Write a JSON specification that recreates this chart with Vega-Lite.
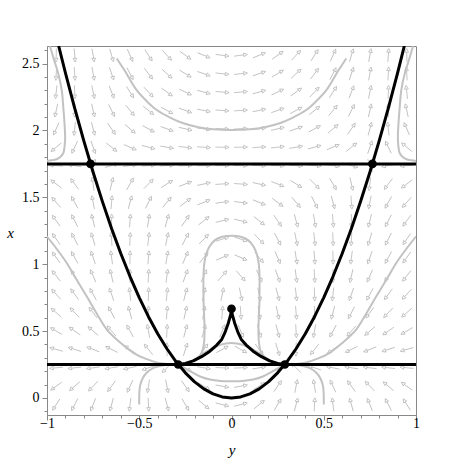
{
"$schema":"https://vega.github.io/schema/vega-lite/v6.json",
"width":369,"height":369,
"autosize":{"type":"none"},
"padding":{"left":47,"top":46,"right":47,"bottom":48},
"config":{"view":{"stroke":"#888888","strokeWidth":1},
"axis":{"grid":false,"domainColor":"#888888","tickColor":"#888888","labelFont":"Liberation Serif, Times New Roman, serif","labelFontSize":14,"labelColor":"#000000","labelFlush":false,"labelOverlap":false,"titleFont":"Liberation Serif, Times New Roman, serif","titleFontStyle":"italic","titleFontWeight":"normal","titleFontSize":15,"titleColor":"#000000"}},
"datasets":{
"arrows":[
{"x":2.5625,"y":-0.95,"a":91.3},{"x":2.5625,"y":-0.85,"a":86.1},{"x":2.5625,"y":-0.75,"a":80.3},{"x":2.5625,"y":-0.65,"a":73.7},{"x":2.5625,"y":-0.55,"a":66.2},{"x":2.5625,"y":-0.45,"a":57.5},{"x":2.5625,"y":-0.35,"a":47.4},{"x":2.5625,"y":-0.25,"a":35.7},{"x":2.5625,"y":-0.15,"a":22.3},{"x":2.5625,"y":-0.05,"a":7.6},{"x":2.5625,"y":0.05,"a":-7.6},{"x":2.5625,"y":0.15,"a":-22.3},{"x":2.5625,"y":0.25,"a":-35.7},{"x":2.5625,"y":0.35,"a":-47.4},{"x":2.5625,"y":0.45,"a":-57.5},{"x":2.5625,"y":0.55,"a":-66.2},{"x":2.5625,"y":0.65,"a":-73.7},{"x":2.5625,"y":0.75,"a":-80.3},{"x":2.5625,"y":0.85,"a":-86.1},{"x":2.5625,"y":0.95,"a":-91.3},
{"x":2.425,"y":-0.95,"a":93.2},{"x":2.425,"y":-0.85,"a":86.7},{"x":2.425,"y":-0.75,"a":79.6},{"x":2.425,"y":-0.65,"a":71.5},{"x":2.425,"y":-0.55,"a":62.6},{"x":2.425,"y":-0.45,"a":52.9},{"x":2.425,"y":-0.35,"a":42.2},{"x":2.425,"y":-0.25,"a":30.8},{"x":2.425,"y":-0.15,"a":18.7},{"x":2.425,"y":-0.05,"a":6.3},{"x":2.425,"y":0.05,"a":-6.3},{"x":2.425,"y":0.15,"a":-18.7},{"x":2.425,"y":0.25,"a":-30.8},{"x":2.425,"y":0.35,"a":-42.2},{"x":2.425,"y":0.45,"a":-52.9},{"x":2.425,"y":0.55,"a":-62.6},{"x":2.425,"y":0.65,"a":-71.5},{"x":2.425,"y":0.75,"a":-79.6},{"x":2.425,"y":0.85,"a":-86.7},{"x":2.425,"y":0.95,"a":-93.2},
{"x":2.2875,"y":-0.95,"a":96.3},{"x":2.2875,"y":-0.85,"a":88},{"x":2.2875,"y":-0.75,"a":78.6},{"x":2.2875,"y":-0.65,"a":68.5},{"x":2.2875,"y":-0.55,"a":57.8},{"x":2.2875,"y":-0.45,"a":46.8},{"x":2.2875,"y":-0.35,"a":35.9},{"x":2.2875,"y":-0.25,"a":25.3},{"x":2.2875,"y":-0.15,"a":15},{"x":2.2875,"y":-0.05,"a":5},{"x":2.2875,"y":0.05,"a":-5},{"x":2.2875,"y":0.15,"a":-15},{"x":2.2875,"y":0.25,"a":-25.3},{"x":2.2875,"y":0.35,"a":-35.9},{"x":2.2875,"y":0.45,"a":-46.8},{"x":2.2875,"y":0.55,"a":-57.8},{"x":2.2875,"y":0.65,"a":-68.5},{"x":2.2875,"y":0.75,"a":-78.6},{"x":2.2875,"y":0.85,"a":-88},{"x":2.2875,"y":0.95,"a":-96.3},
{"x":2.15,"y":-0.95,"a":102},{"x":2.15,"y":-0.85,"a":90.4},{"x":2.15,"y":-0.75,"a":77.4},{"x":2.15,"y":-0.65,"a":63.8},{"x":2.15,"y":-0.55,"a":50.7},{"x":2.15,"y":-0.45,"a":38.8},{"x":2.15,"y":-0.35,"a":28.5},{"x":2.15,"y":-0.25,"a":19.4},{"x":2.15,"y":-0.15,"a":11.2},{"x":2.15,"y":-0.05,"a":3.7},{"x":2.15,"y":0.05,"a":-3.7},{"x":2.15,"y":0.15,"a":-11.2},{"x":2.15,"y":0.25,"a":-19.4},{"x":2.15,"y":0.35,"a":-28.5},{"x":2.15,"y":0.45,"a":-38.8},{"x":2.15,"y":0.55,"a":-50.7},{"x":2.15,"y":0.65,"a":-63.8},{"x":2.15,"y":0.75,"a":-77.4},{"x":2.15,"y":0.85,"a":-90.4},{"x":2.15,"y":0.95,"a":-102},
{"x":2.0125,"y":-0.95,"a":113.5},{"x":2.0125,"y":-0.85,"a":96.2},{"x":2.0125,"y":-0.75,"a":75.5},{"x":2.0125,"y":-0.65,"a":55.7},{"x":2.0125,"y":-0.55,"a":39.9},{"x":2.0125,"y":-0.45,"a":28.3},{"x":2.0125,"y":-0.35,"a":19.7},{"x":2.0125,"y":-0.25,"a":13},{"x":2.0125,"y":-0.15,"a":7.4},{"x":2.0125,"y":-0.05,"a":2.4},{"x":2.0125,"y":0.05,"a":-2.4},{"x":2.0125,"y":0.15,"a":-7.4},{"x":2.0125,"y":0.25,"a":-13},{"x":2.0125,"y":0.35,"a":-19.7},{"x":2.0125,"y":0.45,"a":-28.3},{"x":2.0125,"y":0.55,"a":-39.9},{"x":2.0125,"y":0.65,"a":-55.7},{"x":2.0125,"y":0.75,"a":-75.5},{"x":2.0125,"y":0.85,"a":-96.2},{"x":2.0125,"y":0.95,"a":-113.5},
{"x":1.875,"y":-0.95,"a":139.9},{"x":1.875,"y":-0.85,"a":115},{"x":1.875,"y":-0.75,"a":71.3},{"x":1.875,"y":-0.65,"a":38.3},{"x":1.875,"y":-0.55,"a":22.7},{"x":1.875,"y":-0.45,"a":14.7},{"x":1.875,"y":-0.35,"a":9.7},{"x":1.875,"y":-0.25,"a":6.2},{"x":1.875,"y":-0.15,"a":3.5},{"x":1.875,"y":-0.05,"a":1.1},{"x":1.875,"y":0.05,"a":-1.1},{"x":1.875,"y":0.15,"a":-3.5},{"x":1.875,"y":0.25,"a":-6.2},{"x":1.875,"y":0.35,"a":-9.7},{"x":1.875,"y":0.45,"a":-14.7},{"x":1.875,"y":0.55,"a":-22.7},{"x":1.875,"y":0.65,"a":-38.3},{"x":1.875,"y":0.75,"a":-71.3},{"x":1.875,"y":0.85,"a":-115},{"x":1.875,"y":0.95,"a":-139.9},
{"x":1.7375,"y":-0.95,"a":-175.5},{"x":1.7375,"y":-0.85,"a":-170.9},{"x":1.7375,"y":-0.75,"a":-71.8},{"x":1.7375,"y":-0.65,"a":-15.7},{"x":1.7375,"y":-0.55,"a":-7.7},{"x":1.7375,"y":-0.45,"a":-4.6},{"x":1.7375,"y":-0.35,"a":-3},{"x":1.7375,"y":-0.25,"a":-1.9},{"x":1.7375,"y":-0.15,"a":-1},{"x":1.7375,"y":-0.05,"a":-0.3},{"x":1.7375,"y":0.05,"a":0.3},{"x":1.7375,"y":0.15,"a":1},{"x":1.7375,"y":0.25,"a":1.9},{"x":1.7375,"y":0.35,"a":3},{"x":1.7375,"y":0.45,"a":4.6},{"x":1.7375,"y":0.55,"a":7.7},{"x":1.7375,"y":0.65,"a":15.7},{"x":1.7375,"y":0.75,"a":71.8},{"x":1.7375,"y":0.85,"a":170.9},{"x":1.7375,"y":0.95,"a":175.5},
{"x":1.6,"y":-0.95,"a":-142.9},{"x":1.6,"y":-0.85,"a":-127.1},{"x":1.6,"y":-0.75,"a":-97.5},{"x":1.6,"y":-0.65,"a":-77},{"x":1.6,"y":-0.55,"a":-60.3},{"x":1.6,"y":-0.45,"a":-45},{"x":1.6,"y":-0.35,"a":-32.1},{"x":1.6,"y":-0.25,"a":-21.3},{"x":1.6,"y":-0.15,"a":-12.2},{"x":1.6,"y":-0.05,"a":-4},{"x":1.6,"y":0.05,"a":4},{"x":1.6,"y":0.15,"a":12.2},{"x":1.6,"y":0.25,"a":21.3},{"x":1.6,"y":0.35,"a":32.1},{"x":1.6,"y":0.45,"a":45},{"x":1.6,"y":0.55,"a":60.3},{"x":1.6,"y":0.65,"a":77},{"x":1.6,"y":0.75,"a":97.5},{"x":1.6,"y":0.85,"a":127.1},{"x":1.6,"y":0.95,"a":142.9},
{"x":1.4625,"y":-0.95,"a":-130.8},{"x":1.4625,"y":-0.85,"a":-118.6},{"x":1.4625,"y":-0.75,"a":-101.2},{"x":1.4625,"y":-0.65,"a":-85.5},{"x":1.4625,"y":-0.55,"a":-75.1},{"x":1.4625,"y":-0.45,"a":-63.4},{"x":1.4625,"y":-0.35,"a":-50.5},{"x":1.4625,"y":-0.25,"a":-36.7},{"x":1.4625,"y":-0.15,"a":-22.2},{"x":1.4625,"y":-0.05,"a":-7.4},{"x":1.4625,"y":0.05,"a":7.4},{"x":1.4625,"y":0.15,"a":22.2},{"x":1.4625,"y":0.25,"a":36.7},{"x":1.4625,"y":0.35,"a":50.5},{"x":1.4625,"y":0.45,"a":63.4},{"x":1.4625,"y":0.55,"a":75.1},{"x":1.4625,"y":0.65,"a":85.5},{"x":1.4625,"y":0.75,"a":101.2},{"x":1.4625,"y":0.85,"a":118.6},{"x":1.4625,"y":0.95,"a":130.8},
{"x":1.325,"y":-0.95,"a":-126.2},{"x":1.325,"y":-0.85,"a":-116.5},{"x":1.325,"y":-0.75,"a":-103.6},{"x":1.325,"y":-0.65,"a":-89.5},{"x":1.325,"y":-0.55,"a":-85.6},{"x":1.325,"y":-0.45,"a":-80.9},{"x":1.325,"y":-0.35,"a":-74.6},{"x":1.325,"y":-0.25,"a":-55.6},{"x":1.325,"y":-0.15,"a":-38.4},{"x":1.325,"y":-0.05,"a":-14.1},{"x":1.325,"y":0.05,"a":14.1},{"x":1.325,"y":0.15,"a":38.4},{"x":1.325,"y":0.25,"a":55.6},{"x":1.325,"y":0.35,"a":74.6},{"x":1.325,"y":0.45,"a":80.9},{"x":1.325,"y":0.55,"a":85.6},{"x":1.325,"y":0.65,"a":89.5},{"x":1.325,"y":0.75,"a":103.6},{"x":1.325,"y":0.85,"a":116.5},{"x":1.325,"y":0.95,"a":126.2},
{"x":1.1875,"y":-0.95,"a":-124.9},{"x":1.1875,"y":-0.85,"a":-116.6},{"x":1.1875,"y":-0.75,"a":-106.2},{"x":1.1875,"y":-0.65,"a":-93.1},{"x":1.1875,"y":-0.55,"a":-87.5},{"x":1.1875,"y":-0.45,"a":-83.6},{"x":1.1875,"y":-0.35,"a":-78.5},{"x":1.1875,"y":-0.25,"a":-62.4},{"x":1.1875,"y":-0.15,"a":-45.7},{"x":1.1875,"y":-0.05,"a":-18},{"x":1.1875,"y":0.05,"a":18},{"x":1.1875,"y":0.15,"a":45.7},{"x":1.1875,"y":0.25,"a":62.4},{"x":1.1875,"y":0.35,"a":78.5},{"x":1.1875,"y":0.45,"a":83.6},{"x":1.1875,"y":0.55,"a":87.5},{"x":1.1875,"y":0.65,"a":93.1},{"x":1.1875,"y":0.75,"a":106.2},{"x":1.1875,"y":0.85,"a":116.6},{"x":1.1875,"y":0.95,"a":124.9},
{"x":1.05,"y":-0.95,"a":-125.6},{"x":1.05,"y":-0.85,"a":-118.3},{"x":1.05,"y":-0.75,"a":-109.2},{"x":1.05,"y":-0.65,"a":-97.8},{"x":1.05,"y":-0.55,"a":-88.8},{"x":1.05,"y":-0.45,"a":-85.4},{"x":1.05,"y":-0.35,"a":-80.9},{"x":1.05,"y":-0.25,"a":-67},{"x":1.05,"y":-0.15,"a":-51.2},{"x":1.05,"y":-0.05,"a":-23.2},{"x":1.05,"y":0.05,"a":23.2},{"x":1.05,"y":0.15,"a":51.2},{"x":1.05,"y":0.25,"a":67},{"x":1.05,"y":0.35,"a":80.9},{"x":1.05,"y":0.45,"a":85.4},{"x":1.05,"y":0.55,"a":88.8},{"x":1.05,"y":0.65,"a":97.8},{"x":1.05,"y":0.75,"a":109.2},{"x":1.05,"y":0.85,"a":118.3},{"x":1.05,"y":0.95,"a":125.6},
{"x":0.9125,"y":-0.95,"a":-128},{"x":0.9125,"y":-0.85,"a":-121.4},{"x":0.9125,"y":-0.75,"a":-113.1},{"x":0.9125,"y":-0.65,"a":-102.7},{"x":0.9125,"y":-0.55,"a":-90},{"x":0.9125,"y":-0.45,"a":-86.8},{"x":0.9125,"y":-0.35,"a":-82.7},{"x":0.9125,"y":-0.25,"a":-70.2},{"x":0.9125,"y":-0.15,"a":-66.2},{"x":0.9125,"y":-0.05,"a":-48.6},{"x":0.9125,"y":0.05,"a":48.6},{"x":0.9125,"y":0.15,"a":66.2},{"x":0.9125,"y":0.25,"a":70.2},{"x":0.9125,"y":0.35,"a":82.7},{"x":0.9125,"y":0.45,"a":86.8},{"x":0.9125,"y":0.55,"a":90},{"x":0.9125,"y":0.65,"a":102.7},{"x":0.9125,"y":0.75,"a":113.1},{"x":0.9125,"y":0.85,"a":121.4},{"x":0.9125,"y":0.95,"a":128},
{"x":0.775,"y":-0.95,"a":-132.4},{"x":0.775,"y":-0.85,"a":-126.3},{"x":0.775,"y":-0.75,"a":-118.6},{"x":0.775,"y":-0.65,"a":-108.8},{"x":0.775,"y":-0.55,"a":-96.2},{"x":0.775,"y":-0.45,"a":-88.1},{"x":0.775,"y":-0.35,"a":-84},{"x":0.775,"y":-0.25,"a":-75.5},{"x":0.775,"y":-0.15,"a":-77.8},{"x":0.775,"y":-0.05,"a":-78.4},{"x":0.775,"y":0.05,"a":78.4},{"x":0.775,"y":0.15,"a":77.8},{"x":0.775,"y":0.25,"a":75.5},{"x":0.775,"y":0.35,"a":84},{"x":0.775,"y":0.45,"a":88.1},{"x":0.775,"y":0.55,"a":96.2},{"x":0.775,"y":0.65,"a":108.8},{"x":0.775,"y":0.75,"a":118.6},{"x":0.775,"y":0.85,"a":126.3},{"x":0.775,"y":0.95,"a":132.4},
{"x":0.6375,"y":-0.95,"a":-139.2},{"x":0.6375,"y":-0.85,"a":-133.8},{"x":0.6375,"y":-0.75,"a":-126.7},{"x":0.6375,"y":-0.65,"a":-117.3},{"x":0.6375,"y":-0.55,"a":-104.6},{"x":0.6375,"y":-0.45,"a":-89.6},{"x":0.6375,"y":-0.35,"a":-85.3},{"x":0.6375,"y":-0.25,"a":-77.8},{"x":0.6375,"y":-0.15,"a":-80.5},{"x":0.6375,"y":-0.05,"a":-86},{"x":0.6375,"y":0.05,"a":86},{"x":0.6375,"y":0.15,"a":80.5},{"x":0.6375,"y":0.25,"a":77.8},{"x":0.6375,"y":0.35,"a":85.3},{"x":0.6375,"y":0.45,"a":89.6},{"x":0.6375,"y":0.55,"a":104.6},{"x":0.6375,"y":0.65,"a":117.3},{"x":0.6375,"y":0.75,"a":126.7},{"x":0.6375,"y":0.85,"a":133.8},{"x":0.6375,"y":0.95,"a":139.2},
{"x":0.5,"y":-0.95,"a":-149.6},{"x":0.5,"y":-0.85,"a":-145.2},{"x":0.5,"y":-0.75,"a":-139.3},{"x":0.5,"y":-0.65,"a":-130.9},{"x":0.5,"y":-0.55,"a":-118.5},{"x":0.5,"y":-0.45,"a":-100},{"x":0.5,"y":-0.35,"a":-86.8},{"x":0.5,"y":-0.25,"a":-75.8},{"x":0.5,"y":-0.15,"a":-74.5},{"x":0.5,"y":-0.05,"a":-66.9},{"x":0.5,"y":0.05,"a":66.9},{"x":0.5,"y":0.15,"a":74.5},{"x":0.5,"y":0.25,"a":75.8},{"x":0.5,"y":0.35,"a":86.8},{"x":0.5,"y":0.45,"a":100},{"x":0.5,"y":0.55,"a":118.5},{"x":0.5,"y":0.65,"a":130.9},{"x":0.5,"y":0.75,"a":139.3},{"x":0.5,"y":0.85,"a":145.2},{"x":0.5,"y":0.95,"a":149.6},
{"x":0.3625,"y":-0.95,"a":-164.6},{"x":0.3625,"y":-0.85,"a":-162.2},{"x":0.3625,"y":-0.75,"a":-158.9},{"x":0.3625,"y":-0.65,"a":-154},{"x":0.3625,"y":-0.55,"a":-145.5},{"x":0.3625,"y":-0.45,"a":-128.7},{"x":0.3625,"y":-0.35,"a":-91.2},{"x":0.3625,"y":-0.25,"a":-72.9},{"x":0.3625,"y":-0.15,"a":-54.4},{"x":0.3625,"y":-0.05,"a":-28.6},{"x":0.3625,"y":0.05,"a":28.6},{"x":0.3625,"y":0.15,"a":54.4},{"x":0.3625,"y":0.25,"a":72.9},{"x":0.3625,"y":0.35,"a":91.2},{"x":0.3625,"y":0.45,"a":128.7},{"x":0.3625,"y":0.55,"a":145.5},{"x":0.3625,"y":0.65,"a":154},{"x":0.3625,"y":0.75,"a":158.9},{"x":0.3625,"y":0.85,"a":162.2},{"x":0.3625,"y":0.95,"a":164.6},
{"x":0.225,"y":-0.95,"a":174.7},{"x":0.225,"y":-0.85,"a":173.9},{"x":0.225,"y":-0.75,"a":172.8},{"x":0.225,"y":-0.65,"a":171.1},{"x":0.225,"y":-0.55,"a":168.1},{"x":0.225,"y":-0.45,"a":161.6},{"x":0.225,"y":-0.35,"a":134.6},{"x":0.225,"y":-0.25,"a":31.1},{"x":0.225,"y":-0.15,"a":9.3},{"x":0.225,"y":-0.05,"a":2.4},{"x":0.225,"y":0.05,"a":-2.4},{"x":0.225,"y":0.15,"a":-9.3},{"x":0.225,"y":0.25,"a":-31.1},{"x":0.225,"y":0.35,"a":-134.6},{"x":0.225,"y":0.45,"a":-161.6},{"x":0.225,"y":0.55,"a":-168.1},{"x":0.225,"y":0.65,"a":-171.1},{"x":0.225,"y":0.75,"a":-172.8},{"x":0.225,"y":0.85,"a":-173.9},{"x":0.225,"y":0.95,"a":-174.7},
{"x":0.0875,"y":-0.95,"a":144.3},{"x":0.0875,"y":-0.85,"a":139.7},{"x":0.0875,"y":-0.75,"a":133.7},{"x":0.0875,"y":-0.65,"a":125.7},{"x":0.0875,"y":-0.55,"a":114.7},{"x":0.0875,"y":-0.45,"a":99.4},{"x":0.0875,"y":-0.35,"a":79},{"x":0.0875,"y":-0.25,"a":55},{"x":0.0875,"y":-0.15,"a":31.3},{"x":0.0875,"y":-0.05,"a":10},{"x":0.0875,"y":0.05,"a":-10},{"x":0.0875,"y":0.15,"a":-31.3},{"x":0.0875,"y":0.25,"a":-55},{"x":0.0875,"y":0.35,"a":-79},{"x":0.0875,"y":0.45,"a":-99.4},{"x":0.0875,"y":0.55,"a":-114.7},{"x":0.0875,"y":0.65,"a":-125.7},{"x":0.0875,"y":0.75,"a":-133.7},{"x":0.0875,"y":0.85,"a":-139.7},{"x":0.0875,"y":0.95,"a":-144.3},
{"x":-0.05,"y":-0.95,"a":122.4},{"x":-0.05,"y":-0.85,"a":117.5},{"x":-0.05,"y":-0.75,"a":111.8},{"x":-0.05,"y":-0.65,"a":105.1},{"x":-0.05,"y":-0.55,"a":97},{"x":-0.05,"y":-0.45,"a":87.3},{"x":-0.05,"y":-0.35,"a":75.2},{"x":-0.05,"y":-0.25,"a":59.7},{"x":-0.05,"y":-0.15,"a":39.5},{"x":-0.05,"y":-0.05,"a":14.1},{"x":-0.05,"y":0.05,"a":-14.1},{"x":-0.05,"y":0.15,"a":-39.5},{"x":-0.05,"y":0.25,"a":-59.7},{"x":-0.05,"y":0.35,"a":-75.2},{"x":-0.05,"y":0.45,"a":-87.3},{"x":-0.05,"y":0.55,"a":-97},{"x":-0.05,"y":0.65,"a":-105.1},{"x":-0.05,"y":0.75,"a":-111.8},{"x":-0.05,"y":0.85,"a":-117.5},{"x":-0.05,"y":0.95,"a":-122.4}
],
"gray":[
{"id":"t1","o":1,"y":-0.622,"x":2.539},{"id":"t1","o":2,"y":-0.58,"x":2.45},{"id":"t1","o":3,"y":-0.514,"x":2.302},{"id":"t1","o":4,"y":-0.46,"x":2.22},{"id":"t1","o":5,"y":-0.405,"x":2.153},{"id":"t1","o":6,"y":-0.33,"x":2.095},{"id":"t1","o":7,"y":-0.261,"x":2.054},{"id":"t1","o":8,"y":-0.18,"x":2.025},{"id":"t1","o":9,"y":-0.099,"x":2.009},{"id":"t1","o":10,"y":0,"x":2.003},{"id":"t1","o":11,"y":0.099,"x":2.009},{"id":"t1","o":12,"y":0.18,"x":2.025},{"id":"t1","o":13,"y":0.261,"x":2.054},{"id":"t1","o":14,"y":0.33,"x":2.095},{"id":"t1","o":15,"y":0.405,"x":2.153},{"id":"t1","o":16,"y":0.46,"x":2.22},{"id":"t1","o":17,"y":0.514,"x":2.302},{"id":"t1","o":18,"y":0.58,"x":2.45},{"id":"t1","o":19,"y":0.622,"x":2.539},
{"id":"t2L","o":1,"y":-0.984,"x":2.63},{"id":"t2L","o":2,"y":-0.96,"x":2.52},{"id":"t2L","o":3,"y":-0.939,"x":2.427},{"id":"t2L","o":4,"y":-0.92,"x":2.3},{"id":"t2L","o":5,"y":-0.912,"x":2.178},{"id":"t2L","o":6,"y":-0.905,"x":2.05},{"id":"t2L","o":7,"y":-0.902,"x":1.929},{"id":"t2L","o":8,"y":-0.912,"x":1.83},{"id":"t2L","o":9,"y":-0.93,"x":1.8},{"id":"t2L","o":10,"y":-0.949,"x":1.785},{"id":"t2L","o":11,"y":-0.975,"x":1.777},{"id":"t2L","o":12,"y":-1.0,"x":1.772},
{"id":"t2R","o":1,"y":0.984,"x":2.63},{"id":"t2R","o":2,"y":0.96,"x":2.52},{"id":"t2R","o":3,"y":0.939,"x":2.427},{"id":"t2R","o":4,"y":0.92,"x":2.3},{"id":"t2R","o":5,"y":0.912,"x":2.178},{"id":"t2R","o":6,"y":0.905,"x":2.05},{"id":"t2R","o":7,"y":0.902,"x":1.929},{"id":"t2R","o":8,"y":0.912,"x":1.83},{"id":"t2R","o":9,"y":0.93,"x":1.8},{"id":"t2R","o":10,"y":0.949,"x":1.785},{"id":"t2R","o":11,"y":0.975,"x":1.777},{"id":"t2R","o":12,"y":1.0,"x":1.772},
{"id":"t3L","o":1,"y":-1.0,"x":1.207},{"id":"t3L","o":2,"y":-0.945,"x":1.11},{"id":"t3L","o":3,"y":-0.893,"x":1.009},{"id":"t3L","o":4,"y":-0.84,"x":0.885},{"id":"t3L","o":5,"y":-0.785,"x":0.76},{"id":"t3L","o":6,"y":-0.73,"x":0.63},{"id":"t3L","o":7,"y":-0.676,"x":0.511},{"id":"t3L","o":8,"y":-0.6,"x":0.41},{"id":"t3L","o":9,"y":-0.532,"x":0.337},{"id":"t3L","o":10,"y":-0.47,"x":0.295},{"id":"t3L","o":11,"y":-0.405,"x":0.265},{"id":"t3L","o":12,"y":-0.35,"x":0.254},{"id":"t3L","o":13,"y":-0.289,"x":0.25},
{"id":"t3R","o":1,"y":1.0,"x":1.207},{"id":"t3R","o":2,"y":0.945,"x":1.11},{"id":"t3R","o":3,"y":0.893,"x":1.009},{"id":"t3R","o":4,"y":0.84,"x":0.885},{"id":"t3R","o":5,"y":0.785,"x":0.76},{"id":"t3R","o":6,"y":0.73,"x":0.63},{"id":"t3R","o":7,"y":0.676,"x":0.511},{"id":"t3R","o":8,"y":0.6,"x":0.41},{"id":"t3R","o":9,"y":0.532,"x":0.337},{"id":"t3R","o":10,"y":0.47,"x":0.295},{"id":"t3R","o":11,"y":0.405,"x":0.265},{"id":"t3R","o":12,"y":0.35,"x":0.254},{"id":"t3R","o":13,"y":0.289,"x":0.25},
{"id":"t4L","o":1,"y":-0.5,"x":-0.05},{"id":"t4L","o":2,"y":-0.5,"x":0.02},{"id":"t4L","o":3,"y":-0.496,"x":0.088},{"id":"t4L","o":4,"y":-0.482,"x":0.145},{"id":"t4L","o":5,"y":-0.46,"x":0.188},{"id":"t4L","o":6,"y":-0.425,"x":0.222},{"id":"t4L","o":7,"y":-0.388,"x":0.238},{"id":"t4L","o":8,"y":-0.34,"x":0.247},{"id":"t4L","o":9,"y":-0.289,"x":0.25},
{"id":"t4R","o":1,"y":0.5,"x":-0.05},{"id":"t4R","o":2,"y":0.5,"x":0.02},{"id":"t4R","o":3,"y":0.496,"x":0.088},{"id":"t4R","o":4,"y":0.482,"x":0.145},{"id":"t4R","o":5,"y":0.46,"x":0.188},{"id":"t4R","o":6,"y":0.425,"x":0.222},{"id":"t4R","o":7,"y":0.388,"x":0.238},{"id":"t4R","o":8,"y":0.34,"x":0.247},{"id":"t4R","o":9,"y":0.289,"x":0.25},
{"id":"t5","o":1,"y":-0.289,"x":0.25},{"id":"t5","o":2,"y":-0.25,"x":0.258},{"id":"t5","o":3,"y":-0.207,"x":0.28},{"id":"t5","o":4,"y":-0.175,"x":0.31},{"id":"t5","o":5,"y":-0.158,"x":0.35},{"id":"t5","o":6,"y":-0.149,"x":0.41},{"id":"t5","o":7,"y":-0.146,"x":0.5},{"id":"t5","o":8,"y":-0.148,"x":0.6},{"id":"t5","o":9,"y":-0.151,"x":0.7},{"id":"t5","o":10,"y":-0.152,"x":0.8},{"id":"t5","o":11,"y":-0.152,"x":0.9},{"id":"t5","o":12,"y":-0.148,"x":1.0},{"id":"t5","o":13,"y":-0.138,"x":1.07},{"id":"t5","o":14,"y":-0.12,"x":1.13},{"id":"t5","o":15,"y":-0.09,"x":1.18},{"id":"t5","o":16,"y":-0.05,"x":1.205},{"id":"t5","o":17,"y":0,"x":1.213},{"id":"t5","o":18,"y":0.05,"x":1.205},{"id":"t5","o":19,"y":0.09,"x":1.18},{"id":"t5","o":20,"y":0.12,"x":1.13},{"id":"t5","o":21,"y":0.138,"x":1.07},{"id":"t5","o":22,"y":0.148,"x":1.0},{"id":"t5","o":23,"y":0.152,"x":0.9},{"id":"t5","o":24,"y":0.152,"x":0.8},{"id":"t5","o":25,"y":0.151,"x":0.7},{"id":"t5","o":26,"y":0.148,"x":0.6},{"id":"t5","o":27,"y":0.146,"x":0.5},{"id":"t5","o":28,"y":0.149,"x":0.41},{"id":"t5","o":29,"y":0.158,"x":0.35},{"id":"t5","o":30,"y":0.175,"x":0.31},{"id":"t5","o":31,"y":0.207,"x":0.28},{"id":"t5","o":32,"y":0.25,"x":0.258},{"id":"t5","o":33,"y":0.289,"x":0.25},
{"id":"t6","o":1,"y":-0.289,"x":0.25},{"id":"t6","o":2,"y":-0.25,"x":0.258},{"id":"t6","o":3,"y":-0.207,"x":0.28},{"id":"t6","o":4,"y":-0.17,"x":0.315},{"id":"t6","o":5,"y":-0.12,"x":0.36},{"id":"t6","o":6,"y":-0.06,"x":0.398},{"id":"t6","o":7,"y":0,"x":0.41},{"id":"t6","o":8,"y":0.06,"x":0.398},{"id":"t6","o":9,"y":0.12,"x":0.36},{"id":"t6","o":10,"y":0.17,"x":0.315},{"id":"t6","o":11,"y":0.207,"x":0.28},{"id":"t6","o":12,"y":0.25,"x":0.258},{"id":"t6","o":13,"y":0.289,"x":0.25},
{"id":"t7","o":1,"y":-0.289,"x":0.25},{"id":"t7","o":2,"y":-0.26,"x":0.225},{"id":"t7","o":3,"y":-0.225,"x":0.2},{"id":"t7","o":4,"y":-0.17,"x":0.16},{"id":"t7","o":5,"y":-0.117,"x":0.138},{"id":"t7","o":6,"y":-0.06,"x":0.127},{"id":"t7","o":7,"y":0,"x":0.125},{"id":"t7","o":8,"y":0.06,"x":0.127},{"id":"t7","o":9,"y":0.117,"x":0.138},{"id":"t7","o":10,"y":0.17,"x":0.16},{"id":"t7","o":11,"y":0.225,"x":0.2},{"id":"t7","o":12,"y":0.26,"x":0.225},{"id":"t7","o":13,"y":0.289,"x":0.25}
],
"black":[
{"id":"p","o":1,"y":-0.9367,"x":2.632},{"id":"p","o":2,"y":-0.9,"x":2.43},{"id":"p","o":3,"y":-0.85,"x":2.1675},{"id":"p","o":4,"y":-0.8,"x":1.92},{"id":"p","o":5,"y":-0.75,"x":1.6875},{"id":"p","o":6,"y":-0.7,"x":1.47},{"id":"p","o":7,"y":-0.65,"x":1.2675},{"id":"p","o":8,"y":-0.6,"x":1.08},{"id":"p","o":9,"y":-0.55,"x":0.9075},{"id":"p","o":10,"y":-0.5,"x":0.75},{"id":"p","o":11,"y":-0.45,"x":0.6075},{"id":"p","o":12,"y":-0.4,"x":0.48},{"id":"p","o":13,"y":-0.35,"x":0.3675},{"id":"p","o":14,"y":-0.3,"x":0.27},{"id":"p","o":15,"y":-0.25,"x":0.1875},{"id":"p","o":16,"y":-0.2,"x":0.12},{"id":"p","o":17,"y":-0.15,"x":0.0675},{"id":"p","o":18,"y":-0.1,"x":0.03},{"id":"p","o":19,"y":-0.05,"x":0.0075},{"id":"p","o":20,"y":0,"x":0},{"id":"p","o":21,"y":0.05,"x":0.0075},{"id":"p","o":22,"y":0.1,"x":0.03},{"id":"p","o":23,"y":0.15,"x":0.0675},{"id":"p","o":24,"y":0.2,"x":0.12},{"id":"p","o":25,"y":0.25,"x":0.1875},{"id":"p","o":26,"y":0.3,"x":0.27},{"id":"p","o":27,"y":0.35,"x":0.3675},{"id":"p","o":28,"y":0.4,"x":0.48},{"id":"p","o":29,"y":0.45,"x":0.6075},{"id":"p","o":30,"y":0.5,"x":0.75},{"id":"p","o":31,"y":0.55,"x":0.9075},{"id":"p","o":32,"y":0.6,"x":1.08},{"id":"p","o":33,"y":0.65,"x":1.2675},{"id":"p","o":34,"y":0.7,"x":1.47},{"id":"p","o":35,"y":0.75,"x":1.6875},{"id":"p","o":36,"y":0.8,"x":1.92},{"id":"p","o":37,"y":0.85,"x":2.1675},{"id":"p","o":38,"y":0.9,"x":2.43},{"id":"p","o":39,"y":0.9367,"x":2.632},
{"id":"c","o":1,"y":-0.289,"x":0.25},{"id":"c","o":2,"y":-0.25,"x":0.258},{"id":"c","o":3,"y":-0.207,"x":0.277},{"id":"c","o":4,"y":-0.16,"x":0.31},{"id":"c","o":5,"y":-0.117,"x":0.349},{"id":"c","o":6,"y":-0.08,"x":0.395},{"id":"c","o":7,"y":-0.053,"x":0.437},{"id":"c","o":8,"y":-0.035,"x":0.49},{"id":"c","o":9,"y":-0.017,"x":0.561},{"id":"c","o":10,"y":-0.004,"x":0.625},{"id":"c","o":11,"y":0,"x":0.667},{"id":"c","o":12,"y":0.004,"x":0.625},{"id":"c","o":13,"y":0.017,"x":0.561},{"id":"c","o":14,"y":0.035,"x":0.49},{"id":"c","o":15,"y":0.053,"x":0.437},{"id":"c","o":16,"y":0.08,"x":0.395},{"id":"c","o":17,"y":0.117,"x":0.349},{"id":"c","o":18,"y":0.16,"x":0.31},{"id":"c","o":19,"y":0.207,"x":0.277},{"id":"c","o":20,"y":0.25,"x":0.258},{"id":"c","o":21,"y":0.289,"x":0.25},
{"id":"l1","o":1,"y":-1,"x":0.25},{"id":"l1","o":2,"y":1,"x":0.25},
{"id":"l2","o":1,"y":-1,"x":1.75},{"id":"l2","o":2,"y":1,"x":1.75}
],
"eq":[{"y":-0.764,"x":1.75},{"y":0.764,"x":1.75},{"y":-0.289,"x":0.25},{"y":0.289,"x":0.25},{"y":0,"x":0.667}]
},
"resolve":{"axis":{"x":"independent","y":"independent"}},
"layer":[
{"data":{"name":"arrows"},
"mark":{"type":"point","shape":"M-1,0L0.45,0M0.45,-0.27L1,0L0.45,0.27Z","filled":false,"stroke":"#b9b9b9","strokeWidth":0.8,"size":182,"opacity":1},
"encoding":{
"x":{"field":"y","type":"quantitative","scale":{"domain":[-1,1],"nice":false,"zero":false},"axis":{"orient":"bottom","values":[-1,-0.5,0,0.5,1],"format":"~g","tickSize":5,"labelPadding":-4,"labelFont":"Liberation Serif","labelFontSize":14,"title":"y","titleFont":"Liberation Serif","titlePadding":12}},
"y":{"field":"x","type":"quantitative","scale":{"domain":[-0.128,2.632],"nice":false,"zero":false},"axis":{"orient":"left","values":[0,0.5,1,1.5,2,2.5],"format":"~g","tickSize":5,"labelPadding":3,"labelFont":"Liberation Serif","labelFontSize":14,"title":"x","titleFont":"Liberation Serif","titleAngle":0,"titleX":-37,"titleY":186,"titleAlign":"center","titleBaseline":"middle"}},
"angle":{"field":"a","type":"quantitative","scale":null}}},
{"data":{"name":"gray"},
"mark":{"type":"line","color":"#c2c2c2","strokeWidth":2,"interpolate":"catmull-rom","clip":true},
"encoding":{
"x":{"field":"y","type":"quantitative","axis":{"orient":"bottom","values":[-0.9,-0.8,-0.7,-0.6,-0.4,-0.3,-0.2,-0.1,0.1,0.2,0.3,0.4,0.6,0.7,0.8,0.9],"tickSize":3,"labels":false,"domain":false,"title":null}},
"y":{"field":"x","type":"quantitative","axis":{"orient":"left","values":[-0.1,0.1,0.2,0.3,0.4,0.6,0.7,0.8,0.9,1.1,1.2,1.3,1.4,1.6,1.7,1.8,1.9,2.1,2.2,2.3,2.4,2.6],"tickSize":3,"labels":false,"domain":false,"title":null}},
"detail":{"field":"id"},"order":{"field":"o"}}},
{"data":{"name":"black"},
"mark":{"type":"line","color":"#000000","strokeWidth":3,"strokeJoin":"round","clip":true},
"encoding":{
"x":{"field":"y","type":"quantitative","axis":null},
"y":{"field":"x","type":"quantitative","axis":null},
"detail":{"field":"id"},"order":{"field":"o"}}},
{"data":{"name":"eq"},
"mark":{"type":"point","filled":true,"color":"#000000","size":75,"opacity":1},
"encoding":{
"x":{"field":"y","type":"quantitative","axis":null},
"y":{"field":"x","type":"quantitative","axis":null}}}
]
}
